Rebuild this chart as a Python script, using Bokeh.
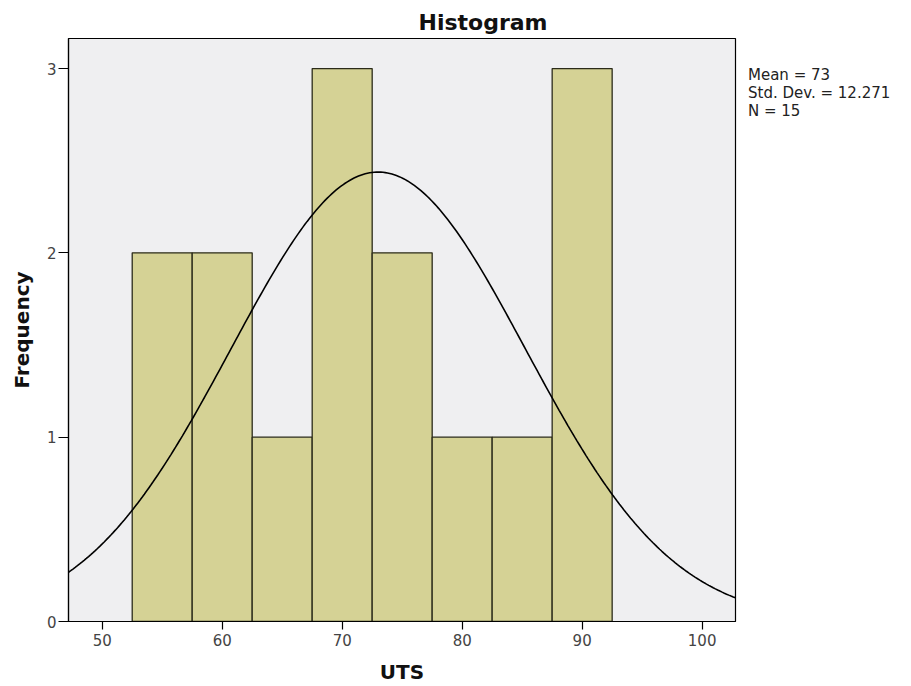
import numpy as np
from bokeh.plotting import figure
from bokeh.models import Range1d, FixedTicker, Title, Legend, LegendItem
from bokeh.embed import file_html
from bokeh.resources import INLINE

# Histogram bins (UTS) and counts
bin_left = [52.5, 57.5, 62.5, 67.5, 72.5, 77.5, 82.5, 87.5]
bin_right = [57.5, 62.5, 67.5, 72.5, 77.5, 82.5, 87.5, 92.5]
counts = [2, 2, 1, 3, 2, 1, 1, 3]

# Summary statistics shown on the chart
mean = 73.0
std_dev = 12.271
n_obs = 15
bin_width = 5.0

x_ticks = [50, 60, 70, 80, 90, 100]
y_ticks = [0, 1, 2, 3]
stats = ["Mean = 73", "Std. Dev. = 12.271", "N = 15"]

p = figure(frame_width=667, frame_height=583, output_backend="svg", toolbar_location=None,
           x_range=Range1d(47.19, 102.78), y_range=Range1d(0, 3.163),
           min_border_left=68, min_border_top=38, min_border_right=165,
           min_border_bottom=63)

p.background_fill_color = "#efeff1"
p.border_fill_color = "white"
p.outline_line_color = "black"
p.outline_line_width = 1.2
p.grid.visible = False

p.quad(left=bin_left, right=bin_right, bottom=0, top=counts,
       fill_color="#d5d295", line_color="#2b2b1a", line_width=1.3)

# fitted normal curve from the shown mean / std. dev.
xs = np.linspace(47.19, 102.78, 300)
ys = n_obs * bin_width / (std_dev * np.sqrt(2 * np.pi)) * np.exp(-0.5 * ((xs - mean) / std_dev) ** 2)
curve = p.line(xs, ys, line_color="black", line_width=1.6)

for ax in (p.xaxis[0], p.yaxis[0]):
    ax.axis_line_color = "black"
    ax.axis_line_width = 1.2
    ax.major_tick_line_color = "black"
    ax.major_tick_line_width = 1.2
    ax.major_tick_in = 0
    ax.minor_tick_line_color = None
    ax.major_label_text_font = "DejaVu Sans"
    ax.major_label_text_font_size = "15px"
    ax.major_label_text_color = "#444444"
    ax.axis_label_text_font = "DejaVu Sans"
    ax.axis_label_text_font_style = "bold"
    ax.axis_label_text_font_size = "20px"
    ax.axis_label_text_color = "#111111"

p.xaxis.major_tick_out = 8
p.yaxis.major_tick_out = 10
p.xaxis.ticker = FixedTicker(ticks=x_ticks)
p.yaxis.ticker = FixedTicker(ticks=y_ticks)
p.xaxis.axis_label = "UTS"
p.yaxis.axis_label = "Frequency"
p.xaxis.major_label_standoff = 4
p.yaxis.major_label_standoff = 2
p.xaxis.axis_label_standoff = 11
p.yaxis.axis_label_standoff = 10

t = Title(text="Histogram", align="left", offset=350, standoff=7, text_font="DejaVu Sans",
          text_font_style="bold", text_font_size="22px", text_color="#111111")
p.add_layout(t, "above")

legend = Legend(items=[LegendItem(label=s, renderers=[curve]) for s in stats],
                location=(13, 501), orientation="vertical",
                glyph_width=0, glyph_height=10, label_height=10, spacing=0,
                padding=0, margin=0, label_standoff=0,
                border_line_color=None, background_fill_alpha=0,
                label_text_font="DejaVu Sans", label_text_font_size="15px",
                label_text_color="#222222")
p.add_layout(legend, "right")

open("out.html", "w").write(file_html(p, INLINE))
